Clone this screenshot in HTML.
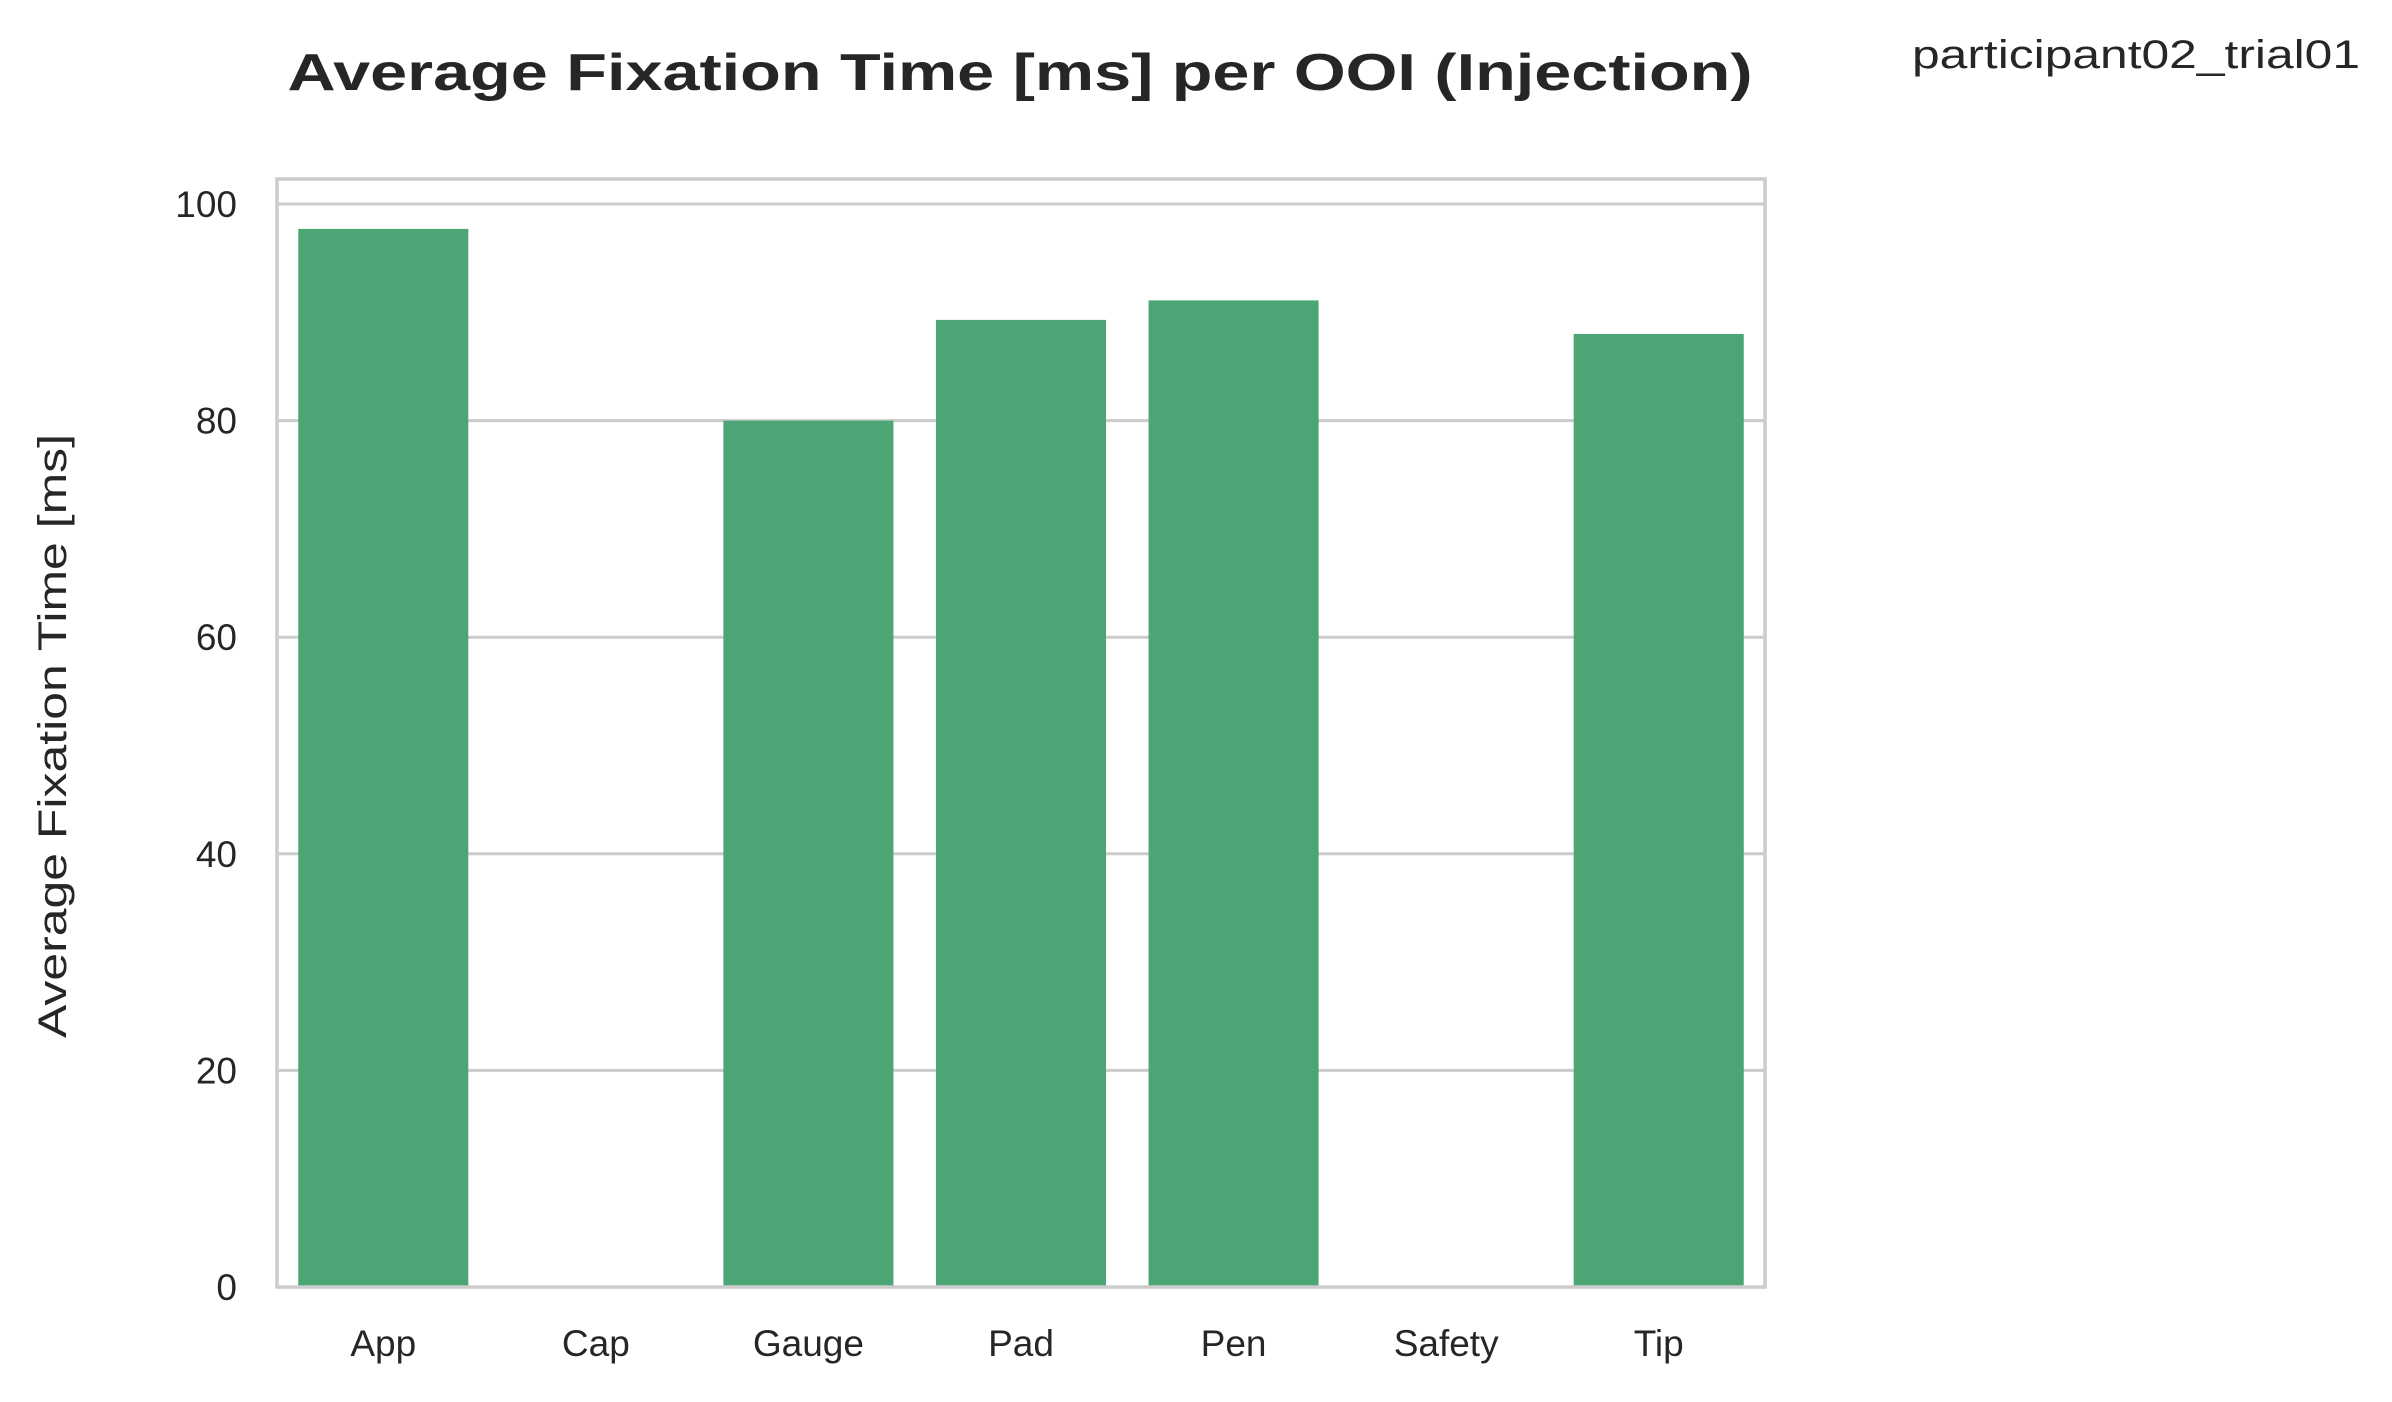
<!DOCTYPE html>
<html><head><meta charset="utf-8"><style>
html,body{margin:0;padding:0;background:#fff;}
svg text{font-family:"Liberation Sans",Arial,sans-serif;fill:#262626;}
</style></head><body>
<svg id="chart" width="2392" height="1397" viewBox="0 0 2392 1397" xmlns="http://www.w3.org/2000/svg">
<rect x="0" y="0" width="2392" height="1397" fill="#fff"/>
<g id="grid"></g>
<g id="bars"></g>
<rect x="277" y="179" width="1488" height="1108" fill="none" stroke="#cccccc" stroke-width="3.5"/>
<g id="yticks"></g>
<g id="xticks"></g>
<text x="1020" y="90" text-anchor="middle" font-size="52" font-weight="bold" textLength="1465" lengthAdjust="spacingAndGlyphs">Average Fixation Time [ms] per OOI (Injection)</text>
<text x="1912" y="68" font-size="40" textLength="448" lengthAdjust="spacingAndGlyphs">participant02_trial01</text>
<text x="0" y="0" transform="translate(66,736) rotate(-90)" text-anchor="middle" font-size="40" textLength="604" lengthAdjust="spacingAndGlyphs">Average Fixation Time [ms]</text>
</svg>
<script>
const categories = ["App","Cap","Gauge","Pad","Pen","Safety","Tip"];
const values = [97.7, 0, 80.0, 89.3, 91.1, 0, 88.0];
const yTicks = [0, 20, 40, 60, 80, 100];

const L = 277, R = 1765, T = 179, B = 1287;
const y0px = 1287, y100px = 204;
function yScale(v){ return y0px + (y100px - y0px) * v / 100; }
const band = (R - L) / categories.length;
function xCenter(i){ return L + band * (i + 0.5); }
const NS = "http://www.w3.org/2000/svg";
const grid = document.getElementById('grid');
const bars = document.getElementById('bars');
const yt = document.getElementById('yticks');
const xt = document.getElementById('xticks');

yTicks.forEach(t => {
  const y = yScale(t);
  const ln = document.createElementNS(NS, 'line');
  
  
  ln.setAttribute('x1', L); ln.setAttribute('x2', R);
  ln.setAttribute('y1', y); ln.setAttribute('y2', y);
  ln.setAttribute('stroke', '#cccccc'); ln.setAttribute('stroke-width', '3');
  grid.appendChild(ln);
  const tx = document.createElementNS(NS, 'text');
  
  
  tx.setAttribute('x', 237); tx.setAttribute('y', y + 13);
  tx.setAttribute('text-anchor', 'end'); tx.setAttribute('font-size', '37');
  tx.textContent = t;
  yt.appendChild(tx);
});

categories.forEach((c, i) => {
  const cx = xCenter(i);
  const w = band * 0.8;
  const v = values[i];
  const r = document.createElementNS(NS, 'rect');
  
  
  r.setAttribute('x', cx - w / 2); r.setAttribute('width', w);
  r.setAttribute('y', yScale(v)); r.setAttribute('height', Math.max(0, y0px - yScale(v)));
  r.setAttribute('fill', '#4ca574');
  bars.appendChild(r);
  const tx = document.createElementNS(NS, 'text');
  
  
  tx.setAttribute('x', cx); tx.setAttribute('y', 1356);
  tx.setAttribute('text-anchor', 'middle'); tx.setAttribute('font-size', '37');
  tx.textContent = c;
  xt.appendChild(tx);
});
</script>
</body></html>
